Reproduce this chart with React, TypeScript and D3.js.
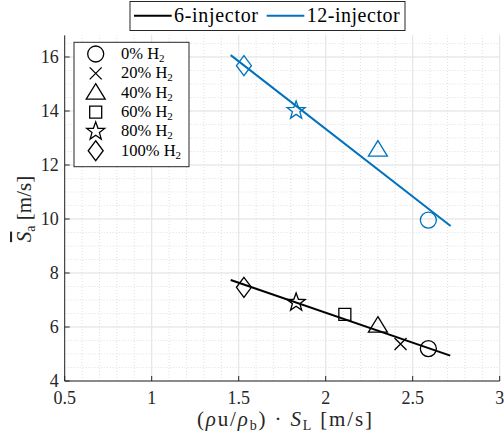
import React from "react";
import * as d3 from "d3";

const h2Labels = ["0%", "20%", "40%", "60%", "80%", "100%"];
const markerTypes = ["circle", "cross", "triangle", "square", "star", "diamond"];
const x6 = [2.59, 2.43, 2.3, 2.11, 1.83, 1.53];
const y6 = [5.2, 5.37, 6.05, 6.47, 6.91, 7.47];
const x12 = [2.59, null, 2.3, null, 1.83, 1.53];
const y12 = [9.96, null, 12.57, null, 14.02, 15.68];
const fit6X = [1.454, 2.716];
const fit6Y = [7.74, 4.94];
const fit12X = [1.454, 2.718];
const fit12Y = [16.07, 9.74];
const xTicks = [0.5, 1, 1.5, 2, 2.5, 3];
const yTicks = [4, 6, 8, 10, 12, 14, 16];
const seriesNames = ["6-injector", "12-injector"];
const seriesColors = ["#000000", "#0072BD"];

const W = 504, H = 445;
const L = 64.7, R = 499.7, T = 35.4, B = 381;
const FONT = '"Liberation Serif"';

function markerPath(type: string): string {
  switch (type) {
    case "circle": {
      const p = d3.path();
      p.arc(0, 0, 8, 0, Math.PI * 2);
      p.closePath();
      return p.toString();
    }
    case "cross":
      return "M-6,-6L6,6M-6,6L6,-6";
    case "triangle":
      return "M0,-9L9.5,6.5L-9.5,6.5Z";
    case "square":
      return "M-6,-6L6,-6L6,6L-6,6Z";
    case "star": {
      const pts: string[] = [];
      for (let i = 0; i < 10; i++) {
        const r = i % 2 === 0 ? 9.5 : 3.9;
        const a = -Math.PI / 2 + (i * Math.PI) / 5;
        pts.push(`${(r * Math.cos(a)).toFixed(2)},${(r * Math.sin(a)).toFixed(2)}`);
      }
      return "M" + pts.join("L") + "Z";
    }
    case "diamond":
      return "M0,-10L7.5,0L0,10L-7.5,0Z";
  }
  return "";
}

export default function App() {
  const x = d3.scaleLinear().domain([0.5, 3]).range([L, R]);
  const y = d3.scaleLinear().domain([4, 16.8]).range([B, T]);
  const xMinor = d3.range(0.5, 3.0001, 0.1);
  const yMinor = d3.range(4, 16.8, 0.5);
  const line = d3.line<[number, number]>().x(d => x(d[0])).y(d => y(d[1]));

  const fits = [
    { xs: fit6X, ys: fit6Y, color: seriesColors[0] },
    { xs: fit12X, ys: fit12Y, color: seriesColors[1] },
  ];
  const series = [
    { xs: x6, ys: y6, color: seriesColors[0] },
    { xs: x12, ys: y12, color: seriesColors[1] },
  ];
  const tStyle = { fontFamily: FONT };

  return (
    <svg width={W} height={H} style={{ position: "absolute", left: 0, top: 0, background: "#fff", fontFamily: FONT }}>
      {/* minor grid */}
      {xMinor.map((v, i) => (
        <line key={"xm" + i} x1={x(v)} x2={x(v)} y1={B} y2={T} stroke="#d8d8d8" strokeWidth={0.8} strokeDasharray="1,2" />
      ))}
      {yMinor.map((v, i) => (
        <line key={"ym" + i} x1={L} x2={R} y1={y(v)} y2={y(v)} stroke="#d8d8d8" strokeWidth={0.8} strokeDasharray="1,2" />
      ))}
      {/* major grid */}
      {xTicks.map(v => (
        <line key={"xg" + v} x1={x(v)} x2={x(v)} y1={B} y2={T} stroke="#e3e3e3" strokeWidth={1} />
      ))}
      {yTicks.map(v => (
        <line key={"yg" + v} x1={L} x2={R} y1={y(v)} y2={y(v)} stroke="#e3e3e3" strokeWidth={1} />
      ))}
      {/* axes */}
      <line x1={L} x2={L} y1={T} y2={B} stroke="#262626" strokeWidth={1} />
      <line x1={L} x2={R} y1={B} y2={B} stroke="#262626" strokeWidth={1} />
      {xTicks.map(v => (
        <g key={"xt" + v}>
          <line x1={x(v)} x2={x(v)} y1={B} y2={B - 5} stroke="#262626" />
          <text x={x(v)} y={B + 23} textAnchor="middle" fontSize={18} fill="#262626" style={tStyle}>{v}</text>
        </g>
      ))}
      {yTicks.map(v => (
        <g key={"yt" + v}>
          <line x1={L} x2={L + 5} y1={y(v)} y2={y(v)} stroke="#262626" />
          <text x={L - 6} y={y(v) + 6} textAnchor="end" fontSize={18} fill="#262626" style={tStyle}>{v}</text>
        </g>
      ))}
      {/* fit lines */}
      {fits.map((f, i) => (
        <path key={"fit" + i} d={line(f.xs.map((v, j) => [v, f.ys[j]] as [number, number])) || ""} fill="none" stroke={f.color} strokeWidth={2} />
      ))}
      {/* markers */}
      {series.map((s, si) =>
        s.xs.map((v, i) =>
          v == null || s.ys[i] == null ? null : (
            <path key={`m${si}-${i}`} d={markerPath(markerTypes[i])} transform={`translate(${x(v)},${y(s.ys[i] as number)})`} fill="none" stroke={s.color} strokeWidth={1.3} />
          )
        )
      )}
      {/* inner legend */}
      <rect x={74} y={42.3} width={115} height={124.4} fill="#fff" stroke="#262626" strokeWidth={1} />
      {h2Labels.map((lab, i) => {
        const cy = 54 + i * 19.35;
        return (
          <g key={"lg" + i}>
            <path d={markerPath(markerTypes[i])} transform={`translate(95.7,${cy})`} fill="none" stroke="#000" strokeWidth={1.3} />
            <text x={121} y={cy + 5} fontSize={16.5} fill="#000" style={tStyle}>
              {lab} H<tspan fontSize={11} dy={3}>2</tspan>
            </text>
          </g>
        );
      })}
      {/* top legend */}
      <rect x={130} y={1.5} width={275} height={29} fill="#fff" stroke="#262626" strokeWidth={1} />
      <line x1={134} x2={171.7} y1={15.7} y2={15.7} stroke={seriesColors[0]} strokeWidth={2} />
      <text x={174} y={21.5} fontSize={20} fill="#000" style={tStyle} textLength={84} lengthAdjust="spacing">{seriesNames[0]}</text>
      <line x1={266.7} x2={304.3} y1={15.7} y2={15.7} stroke={seriesColors[1]} strokeWidth={2} />
      <text x={306.7} y={21.5} fontSize={20} fill="#000" style={tStyle} textLength={93} lengthAdjust="spacing">{seriesNames[1]}</text>
      {/* x label */}
      <text x={197} y={426} fontSize={21} fill="#262626" style={tStyle} textLength={175} lengthAdjust="spacing">
        (<tspan fontStyle="italic">ρ</tspan>u/<tspan fontStyle="italic">ρ</tspan><tspan fontSize={14} dy={4}>b</tspan><tspan dy={-4}>) · </tspan><tspan fontStyle="italic">S</tspan><tspan fontSize={14} dy={4}>L</tspan><tspan dy={-4}> [m/s]</tspan>
      </text>
      {/* y label */}
      <g transform="translate(31,209) rotate(-90)">
        <text x={0} y={0} textAnchor="middle" fontSize={21} fill="#262626" style={tStyle}>
          <tspan fontStyle="italic" textDecoration="overline" style={{ textDecoration: "overline" }}>S</tspan><tspan fontSize={14} dy={4}>a</tspan><tspan dy={-4}> [m/s]</tspan>
        </text>
      </g>
    </svg>
  );
}
